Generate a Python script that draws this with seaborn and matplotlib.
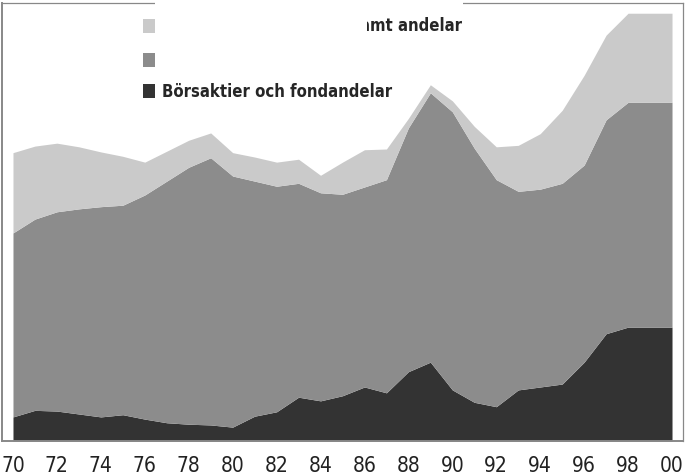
import numpy as np
import pandas as pd
import matplotlib.pyplot as plt
import seaborn as sns
from matplotlib.patches import Patch, Rectangle

# Values (stacked layers)
years = list(range(1970, 2001))
borsaktier = [0.33, 0.42, 0.41, 0.37, 0.33, 0.36, 0.30, 0.25, 0.23, 0.22,
              0.19, 0.34, 0.40, 0.60, 0.55, 0.62, 0.74, 0.66, 0.95, 1.08,
              0.70, 0.53, 0.47, 0.70, 0.74, 0.78, 1.08, 1.47, 1.56, 1.56, 1.56]
mellan = [2.52, 2.62, 2.73, 2.81, 2.88, 2.87, 3.07, 3.31, 3.52, 3.66,
          3.44, 3.22, 3.09, 2.93, 2.85, 2.76, 2.74, 2.92, 3.34, 3.69,
          3.81, 3.48, 3.11, 2.72, 2.71, 2.75, 2.70, 2.93, 3.08, 3.08, 3.08]
ovre = [1.10, 1.00, 0.94, 0.85, 0.75, 0.67, 0.45, 0.41, 0.37, 0.34,
        0.32, 0.33, 0.33, 0.33, 0.24, 0.44, 0.51, 0.42, 0.13, 0.11,
        0.15, 0.30, 0.45, 0.63, 0.76, 1.00, 1.23, 1.16, 1.22, 1.22, 1.22]
labels = ['Räntebärande papper samt andelar', 'Övriga aktier',
          'Börsaktier och fondandelar']
colors = ['#cacaca', '#8c8c8c', '#333333']

df = pd.DataFrame({'year': years, 'bors': borsaktier, 'mellan': mellan, 'ovre': ovre})

sns.set_style('white')
plt.rcParams['font.family'] = ['DejaVu Sans']
plt.rcParams['font.stretch'] = 'condensed'

fig = plt.figure(figsize=(6.88, 4.76), dpi=100)
ax = fig.add_axes([2/688, 35/476, 681/688, 438/476])

ax.stackplot(df['year'], df['bors'], df['mellan'], df['ovre'],
             colors=[colors[2], colors[1], colors[0]], linewidth=0)

ax.set_xlim(1969.5, 2000.5)
ax.set_ylim(0, 6)
ax.set_xticks(years)
ax.set_xticklabels([f'{y % 100:02d}' if y % 2 == 0 else '' for y in years],
                   fontsize=15, color='#222222')
ax.set_yticks([1, 2, 3, 4, 5])
ax.set_yticklabels([])
ax.tick_params(axis='x', direction='out', length=6, width=0.8, color='#777777', pad=5)
ax.tick_params(axis='y', direction='in', length=8, width=0.8, color='#777777')
for s in ax.spines.values():
    s.set_color('#888888')
    s.set_linewidth(0.9)
ax.spines['left'].set_linewidth(1.4)
ax.spines['bottom'].set_linewidth(1.4)

handles = [Patch(facecolor=c, edgecolor='none') for c in colors]
ax.legend(handles, labels, loc='upper left', bbox_to_anchor=(135/688, 1 - 9/476),
          bbox_transform=fig.transFigure, frameon=False, borderpad=0,
          handlelength=0.7, handleheight=0.9, handletextpad=0.45,
          labelspacing=0.8, prop={'size': 12, 'weight': 'bold', 'stretch': 'condensed'})

# white patch that hides part of the legend text in the original
fig.add_artist(Rectangle((155/688, 1 - 74/476), 212/688, 74/476,
                         transform=fig.transFigure, facecolor='white', edgecolor='none', zorder=10))
fig.add_artist(Rectangle((367/688, 1 - 12/476), 96/688, 12/476,
                         transform=fig.transFigure, facecolor='white', edgecolor='none', zorder=10))

fig.savefig('out.png', dpi=100)
